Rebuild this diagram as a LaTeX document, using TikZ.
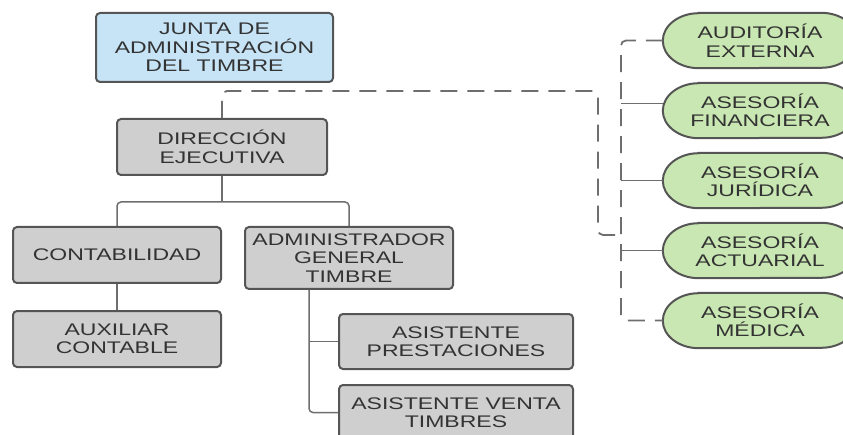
\documentclass[tikz,border=0pt]{standalone}
\usepackage{fontspec}
\newfontfamily\orgfont{Liberation Sans}[FakeStretch=1.37]
\usetikzlibrary{calc}
\definecolor{boxgray}{HTML}{CFCFCF}
\definecolor{bordergray}{HTML}{555555}
\definecolor{textgray}{HTML}{333333}
\definecolor{boxblue}{HTML}{C6E4F6}
\definecolor{boxgreen}{HTML}{C9E7B2}
\definecolor{linegray}{HTML}{6E6E6E}
\pgfdeclarelayer{bg}
\pgfsetlayers{bg,main}
\tikzset{
  txt/.style={align=center, inner sep=0pt, text=textgray,
    font=\orgfont\fontsize{16.8}{18.5}\selectfont},
  box/.style={txt, draw=bordergray, line width=2pt, rounded corners=4pt,
    fill=boxgray, minimum width=#1},
  box/.default=208pt,
  pillnode/.style={txt, minimum width=194pt, minimum height=55pt},
  pillline/.style={draw=bordergray, line width=2pt, fill=boxgreen},
  conn/.style={draw=linegray, line width=1.5pt},
  dashline/.style={draw=linegray, line width=1.8pt, dash pattern=on 17pt off 10pt}
}
\newcommand{\pillborder}[1]{%
  \begin{pgfonlayer}{bg}
  \path[pillline] ([xshift=36pt]#1.north west) -- ([xshift=-36pt]#1.north east)
    arc[start angle=90, end angle=-90, x radius=36pt, y radius=27.5pt]
    -- ([xshift=36pt]#1.south west)
    arc[start angle=270, end angle=90, x radius=36pt, y radius=27.5pt] -- cycle;
  \end{pgfonlayer}}
\begin{document}
\begin{tikzpicture}[x=1pt,y=1pt]
\useasboundingbox (0,0) rectangle (843,434);
\clip (0,0) rectangle (843,434);

% left tree
\node[box=237pt, minimum height=69pt, fill=boxblue] (junta) at (214.5,386.5) {JUNTA DE\\ADMINISTRACIÓN\\DEL TIMBRE};
\node[box=210pt, minimum height=56pt] (dir) at (222,287) {DIRECCIÓN\\EJECUTIVA};
\node[box, minimum height=56pt] (cont) at (117,179) {CONTABILIDAD};
\node[box, minimum height=56pt] (aux) at (117,95) {AUXILIAR\\CONTABLE};
\node[box, minimum height=62pt] (admin) at (349,176) {ADMINISTRADOR\\GENERAL\\TIMBRE};
\node[box=234pt, minimum height=55pt] (ap) at (456,92.5) {ASISTENTE\\PRESTACIONES};
\node[box=234pt, minimum height=55pt] (av) at (456,21.5) {ASISTENTE VENTA\\TIMBRES};

% right advisory units
\node[pillnode] (aud) at (760,393.5) {AUDITORÍA\\EXTERNA};
\node[pillnode] (fin) at (760,323.5) {ASESORÍA\\FINANCIERA};
\node[pillnode] (jur) at (760,253.5) {ASESORÍA\\JURÍDICA};
\node[pillnode] (act) at (760,183.5) {ASESORÍA\\ACTUARIAL};
\node[pillnode] (med) at (760,113.5) {ASESORÍA\\MÉDICA};
\pillborder{aud}
\pillborder{fin}
\pillborder{jur}
\pillborder{act}
\pillborder{med}

% junction coordinates
\coordinate (t) at (222,232);
\coordinate (a1) at ([xshift=65pt]admin.south west);
\coordinate (busx) at (621,0);
\coordinate (dtop) at (598,343);
\coordinate (dbot) at (598,199);

% solid tree connectors
\draw[conn] (dir.south) -- (t);
\draw[conn, rounded corners=4pt] (cont.north) |- (t) -| (admin.north);
\draw[conn] (cont.south) -- (aux.north);
\draw[conn, rounded corners=4pt] (a1) |- (av.west);
\draw[conn] (a1 |- ap.west) -- (ap.west);

% dashed link from direction to advisory bus
\draw[dashline, rounded corners=5pt] (dir.north) |- (dtop) -- (dbot) -- (dbot -| busx);
\draw[dashline, rounded corners=5pt] (aud.west) -- (aud.west -| busx) -- (med.west -| busx) -- (med.west);

% solid stubs to advisory units
\draw[conn] ([yshift=7pt]fin.west -| busx) -- ([yshift=7pt]fin.west);
\draw[conn] (jur.west -| busx) -- (jur.west);
\draw[conn] (act.west -| busx) -- (act.west);
\end{tikzpicture}
\end{document}
